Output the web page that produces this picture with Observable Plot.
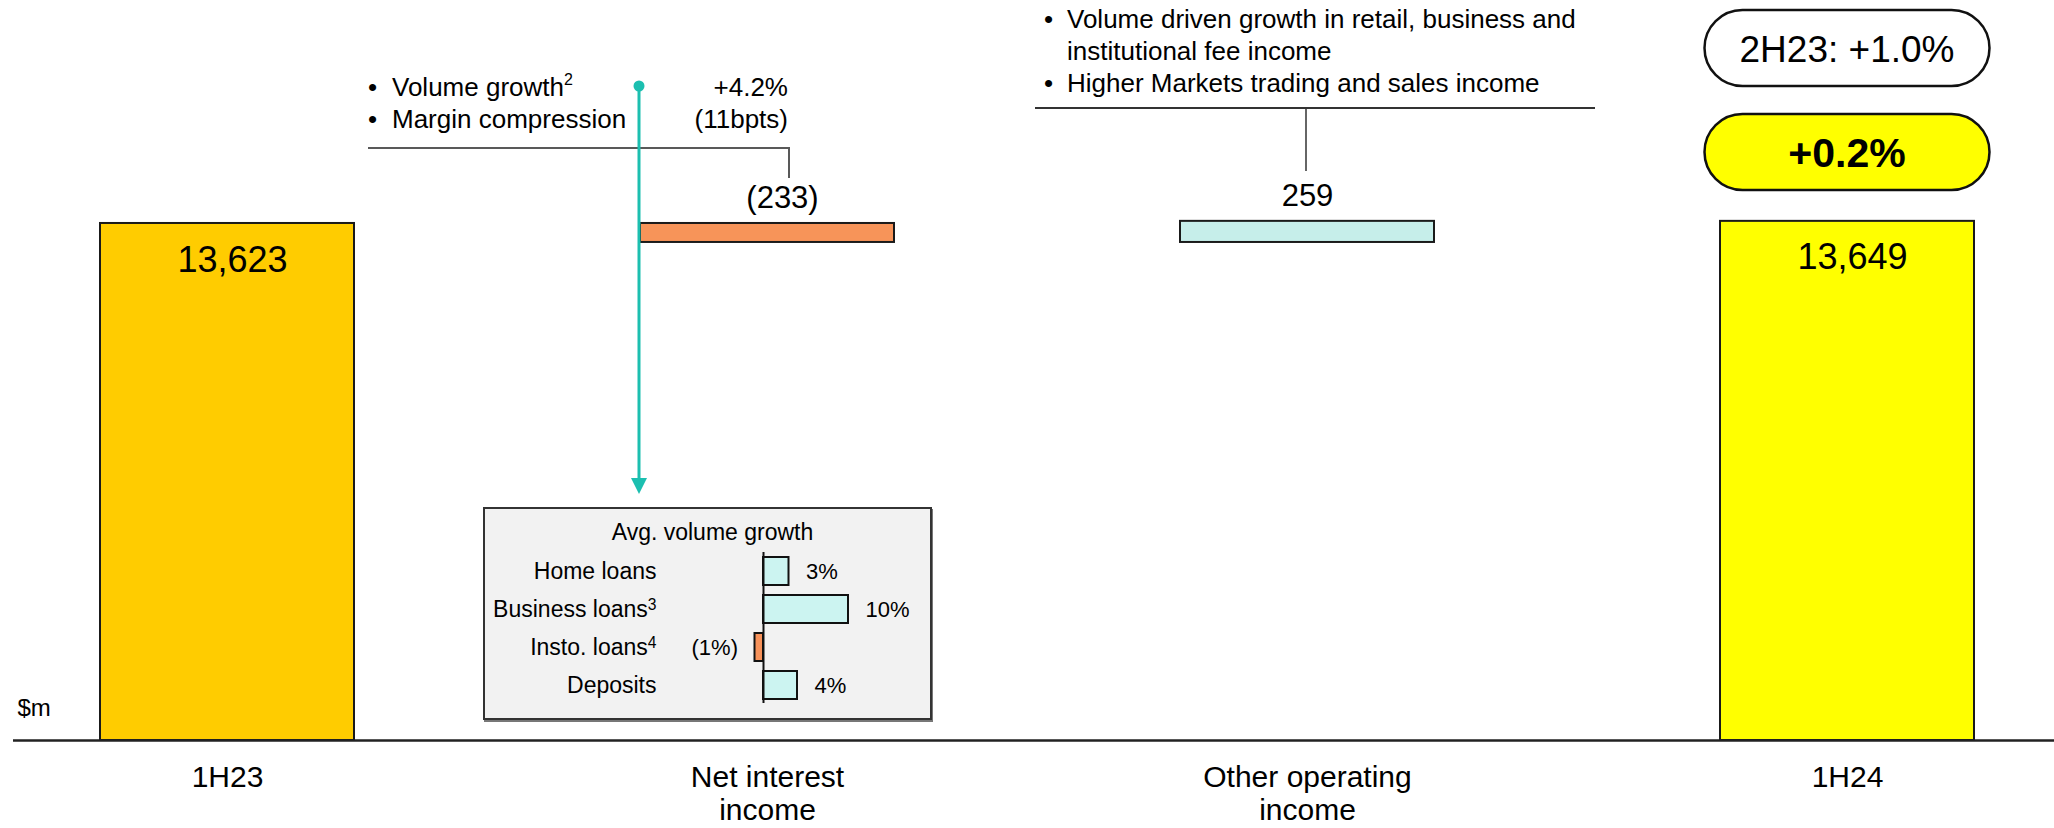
<!DOCTYPE html>
<html>
<head>
<meta charset="utf-8">
<script src="https://cdn.jsdelivr.net/npm/d3@7"></script>
<script src="https://cdn.jsdelivr.net/npm/@observablehq/plot@0.6"></script>
<style>
  html, body { margin: 0; padding: 0; background: #fff; }
  #wrap { position: relative; width: 2054px; height: 828px; font-family: "Liberation Sans", Arial, sans-serif; }
  #wrap > svg { position: absolute; left: 0; top: 0; }
  #inset { position: absolute; left: 483px; top: 507px; width: 449px; height: 213px; box-sizing: border-box;
           border: 2px solid #333; background: #F2F2F2; box-shadow: 1px 2px 0 #777; }
  #inset svg { display: block; }
</style>
</head>
<body>
<div id="wrap"><div id="inset"></div></div>
<script>
// ---------------- data ----------------
const categories = ["1H23", "Net interest\nincome", "Other operating\nincome", "1H24"];
const values = [13623, -233, 259, 13649];
const kinds = ["total", "delta", "delta", "total"];
const barColors = ["#FFCC00", "#F79459", "#C6EEEA", "#FFFF00"];
const yFloor = 7279;   // broken-axis floor at the baseline
const yCeil = 16359;

const insetTitle = "Avg. volume growth";
const insetCategories = ["Home loans", "Business loans³", "Insto. loans⁴", "Deposits"];
const insetValues = [3, 10, -1, 4];

const niiDrivers = ["Volume growth", "Margin compression"];
const niiDriverSup = ["2", ""];
const niiDriverValues = ["+4.2%", "(11bpts)"];
const otherDriverLines = ["Volume driven growth in retail, business and", "institutional fee income", "Higher Markets trading and sales income"];
const otherDriverBullet = [true, false, true];
const priorPeriodPill = "2H23: +1.0%";
const changePill = "+0.2%";
const unitLabel = "$m";

const FONT = '"Liberation Sans", Arial, sans-serif';

// ---------------- waterfall table ----------------
let run = 0;
const rows = categories.map((c, i) => {
  let start, end;
  if (kinds[i] === "total") { start = yFloor; end = values[i]; run = values[i]; }
  else { start = run; end = run + values[i]; run = end; }
  return {cat: c, value: values[i], kind: kinds[i], start, end, top: Math.max(start, end), color: barColors[i]};
});
const fmt = d3.format(",");
const fmtDelta = v => v < 0 ? `(${fmt(-v)})` : fmt(v);

const chart = Plot.plot({
  width: 2054, height: 828,
  marginTop: 0, marginRight: 0, marginBottom: 88, marginLeft: 13,
  style: {fontFamily: FONT, background: "transparent", color: "#000", overflow: "visible"},
  x: {type: "band", domain: categories, range: [100, 1976], paddingInner: 0.53, paddingOuter: 0, align: 0, axis: null, label: null},
  y: {type: "linear", domain: [yFloor, yCeil], range: [740, 0], axis: null},
  color: {type: "identity"},
  marks: [
    Plot.barY(rows, {x: "cat", y1: "start", y2: "end", fill: "color", stroke: "#1a1a1a", strokeWidth: 2}),
    Plot.ruleY([yFloor], {stroke: "#222", strokeWidth: 2.5}),
    Plot.text(rows.filter(d => d.kind === "total"), {x: "cat", y: "end", text: d => fmt(d.value), dy: 36.5, dx: 5, fontSize: 36, fill: "#000"}),
    Plot.text(rows.filter(d => d.kind === "delta" && d.value < 0), {x: "cat", y: "top", text: d => fmtDelta(d.value), dy: -25, dx: 15, fontSize: 31, fill: "#000"}),
    Plot.text(rows.filter(d => d.kind === "delta" && d.value >= 0), {x: "cat", y: "top", text: d => fmtDelta(d.value), dy: -25, fontSize: 31, fill: "#000"}),
    Plot.axisX({tickSize: 0, tickPadding: 23, fontSize: 30, lineHeight: 1.1, label: null, fill: "#000"}),
    Plot.text([unitLabel], {frameAnchor: "bottom-left", textAnchor: "start", lineAnchor: "middle", dx: 4, dy: -31.7, fontSize: 24, fill: "#000"})
  ]
});
document.getElementById("wrap").insertBefore(chart, document.getElementById("inset"));

// ---------------- annotations ----------------
const xs = chart.scale("x");
const bw = xs.bandwidth;
const xStart = c => xs.apply(c);
const xCenter = c => xs.apply(c) + bw / 2;

const g = d3.select(chart).append("g").attr("font-family", FONT).attr("fill", "#000");
function txt(x, y, s, size, anchor = "start", weight = "normal") {
  return g.append("text").attr("x", x).attr("y", y).attr("font-size", size)
    .attr("text-anchor", anchor).attr("font-weight", weight).text(s);
}

// NII drivers
const nii = categories[1];
const niiLeft = xStart(nii);            // 640
niiDrivers.forEach((s, i) => {
  const yb = 96 + i * 32;
  txt(niiLeft - 272, yb, "•", 26);
  const t = txt(niiLeft - 248, yb, s, 26);
  if (niiDriverSup[i]) t.append("tspan").attr("dy", -11).attr("font-size", 16).text(niiDriverSup[i]);
  txt(niiLeft + 148, yb, niiDriverValues[i], 26, "end");
});
g.append("path").attr("d", `M${niiLeft - 272},148 H${niiLeft + 149} V178`)
  .attr("fill", "none").attr("stroke", "#595959").attr("stroke-width", 2);

// teal arrow to the inset
const teal = "#1CBFB0";
g.append("line").attr("x1", niiLeft - 1).attr("x2", niiLeft - 1).attr("y1", 86).attr("y2", 480)
  .attr("stroke", teal).attr("stroke-width", 3);
g.append("circle").attr("cx", niiLeft - 1).attr("cy", 86).attr("r", 5.5).attr("fill", teal);
g.append("path").attr("d", `M${niiLeft - 9},478 L${niiLeft + 7},478 L${niiLeft - 1},494 Z`).attr("fill", teal);

// Other operating income drivers
const oth = categories[2];
const othC = xCenter(oth);
otherDriverLines.forEach((s, i) => {
  const yb = [28, 60, 92][i];
  if (otherDriverBullet[i]) txt(1044, yb, "•", 26);
  txt(1067, yb, s, 26);
});
g.append("line").attr("x1", 1035).attr("x2", 1595).attr("y1", 108).attr("y2", 108)
  .attr("stroke", "#333").attr("stroke-width", 2);
g.append("line").attr("x1", othC - 1).attr("x2", othC - 1).attr("y1", 108).attr("y2", 171)
  .attr("stroke", "#333").attr("stroke-width", 1.5);

// pills above 1H24
const h24C = xCenter(categories[3]);
const pillW = 285, pillH = 76;
g.append("rect").attr("x", h24C - pillW / 2).attr("y", 10).attr("width", pillW).attr("height", pillH)
  .attr("rx", pillH / 2).attr("fill", "#fff").attr("stroke", "#111").attr("stroke-width", 2.5);
txt(h24C, 62, priorPeriodPill, 37, "middle");
g.append("rect").attr("x", h24C - pillW / 2).attr("y", 114).attr("width", pillW).attr("height", pillH)
  .attr("rx", pillH / 2).attr("fill", "#FFFF00").attr("stroke", "#111").attr("stroke-width", 2.5);
txt(h24C, 167, changePill, 41, "middle", "bold");

// ---------------- inset chart ----------------
const insetRows = insetCategories.map((c, i) => ({cat: c, v: insetValues[i]}));
const inset = Plot.plot({
  width: 445, height: 209,
  marginTop: 43, marginBottom: 15, marginLeft: 278, marginRight: 0,
  style: {fontFamily: FONT, background: "transparent", color: "#000", overflow: "visible"},
  x: {type: "linear", domain: [0, 10], range: [278, 363], axis: null},
  y: {type: "band", domain: insetCategories, range: [48, 191.6], paddingInner: 0.27, paddingOuter: 0, align: 0, axis: null},
  color: {type: "identity"},
  marks: [
    Plot.barX(insetRows, {x: "v", y: "cat", fill: d => d.v < 0 ? "#F7925A" : "#CCF4F1", stroke: "#111", strokeWidth: 2}),
    Plot.ruleX([0], {stroke: "#111", strokeWidth: 2}),
    Plot.axisY({tickSize: 0, tickPadding: 107, fontSize: 23, label: null, fill: "#000"}),
    Plot.text(insetRows.filter(d => d.v >= 0), {x: "v", y: "cat", text: d => `${d.v}%`, dx: 17, textAnchor: "start", fontSize: 22, fill: "#000"}),
    Plot.text(insetRows.filter(d => d.v < 0), {x: "v", y: "cat", text: d => `(${-d.v}%)`, dx: -17, textAnchor: "end", fontSize: 22, fill: "#000"}),
    Plot.text([insetTitle], {frameAnchor: "top-left", textAnchor: "middle", lineAnchor: "middle", dx: -51, dy: -19.5, fontSize: 23, fill: "#000"})
  ]
});
// render superscript footnote markers as raised small digits
const supMap = {"³": "3", "⁴": "4"};
d3.select(inset).selectAll("text").each(function() {
  const t = this.textContent;
  const m = t.match(/^(.*?)([³⁴])$/);
  if (m) {
    const el = d3.select(this);
    const target = el.select("tspan").empty() ? el : el.select("tspan");
    target.text(m[1]);
    target.append("tspan").attr("dy", "-0.45em").attr("font-size", "0.68em").text(supMap[m[2]]);
  }
});
document.getElementById("inset").appendChild(inset);
</script>
</body>
</html>
